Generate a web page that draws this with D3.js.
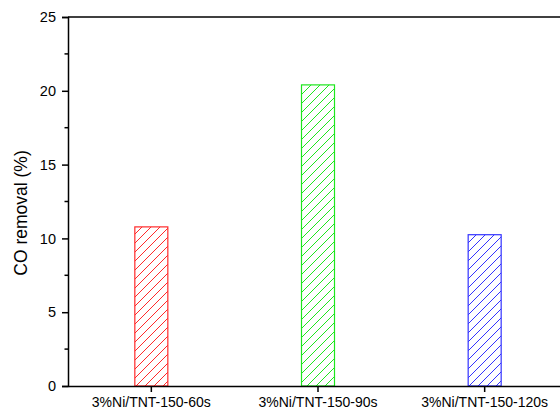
<!DOCTYPE html>
<html><head><meta charset="utf-8">
<script src="https://cdn.jsdelivr.net/npm/d3@7"></script>
<style>body{margin:0;background:#fff}svg{display:block}text{font-family:"Liberation Sans",Arial,sans-serif}</style>
</head><body>
<script>
const categories = ["3%Ni/TNT-150-60s", "3%Ni/TNT-150-90s", "3%Ni/TNT-150-120s"];
const values = [10.78, 20.4, 10.25];
const colors = ["#ff2a2a", "#1ee61e", "#3333ff"];
const yTicks = [0, 5, 10, 15, 20, 25];
const yMinorTicks = [2.5, 7.5, 12.5, 17.5, 22.5];
const yLabel = "CO removal (%)";

(function () {
const W = 560, H = 413;
const svg = d3.select("body").append("svg").attr("width", W).attr("height", H);
const mL = 68, mR = 568, mT = 17, mB = 386;

const x = d3.scaleBand().domain(categories).range([mL, mR]).paddingInner(0.796).paddingOuter(0.398);
const y = d3.scaleLinear().domain([0, 25]).range([mB, mT]);

const defs = svg.append("defs");
categories.forEach((c, i) => {
  const s = 9;
  const p = defs.append("pattern").attr("id", "hatch" + i)
    .attr("patternUnits", "userSpaceOnUse").attr("width", s).attr("height", s);
  p.append("path").attr("d", `M0,${s} L${s},0 M${-s/2},${s/2} L${s/2},${-s/2} M${s/2},${s*1.5} L${s*1.5},${s/2}`)
    .attr("stroke", colors[i]).attr("stroke-width", 1).attr("fill", "none");
});

// bars
svg.append("g").selectAll("rect").data(values).join("rect")
  .attr("x", (d, i) => x(categories[i]) + 0.5)
  .attr("y", d => y(d))
  .attr("width", x.bandwidth() - 1)
  .attr("height", d => y(0) - y(d))
  .attr("fill", (d, i) => `url(#hatch${i})`)
  .attr("stroke", (d, i) => colors[i])
  .attr("stroke-width", 1.2);

// y axis
const yAxis = svg.append("g").attr("transform", `translate(${mL},0)`)
  .call(d3.axisLeft(y).tickValues(yTicks).tickSize(6).tickPadding(6).tickFormat(d3.format("d")));
yAxis.select(".domain").attr("stroke-width", 1.5);
yAxis.selectAll(".tick line").attr("stroke-width", 1.5);
yAxis.selectAll("text").attr("font-size", 14.5).attr("fill", "#000");
yAxis.selectAll(".minor").data(yMinorTicks).join("line").attr("class", "minor")
  .attr("x1", -3.5).attr("x2", 0).attr("y1", d => y(d)).attr("y2", d => y(d))
  .attr("stroke", "#000").attr("stroke-width", 1.5);

// x axis
const xAxis = svg.append("g").attr("transform", `translate(0,${mB})`)
  .call(d3.axisBottom(x).tickSize(6).tickPadding(5).tickSizeOuter(0));
xAxis.select(".domain").attr("stroke-width", 1.5);
xAxis.selectAll(".tick line").attr("stroke-width", 1.5);
xAxis.selectAll("text").attr("font-size", 14).attr("fill", "#000");

// top border
svg.append("line").attr("x1", mL).attr("x2", mR).attr("y1", y(25)).attr("y2", y(25))
  .attr("stroke", "#000").attr("stroke-width", 1.5);

// y label
svg.append("text").attr("transform", `translate(27,213) rotate(-90)`)
  .attr("text-anchor", "middle").attr("font-size", 17.5).text(yLabel);
})();
</script>
</body></html>
